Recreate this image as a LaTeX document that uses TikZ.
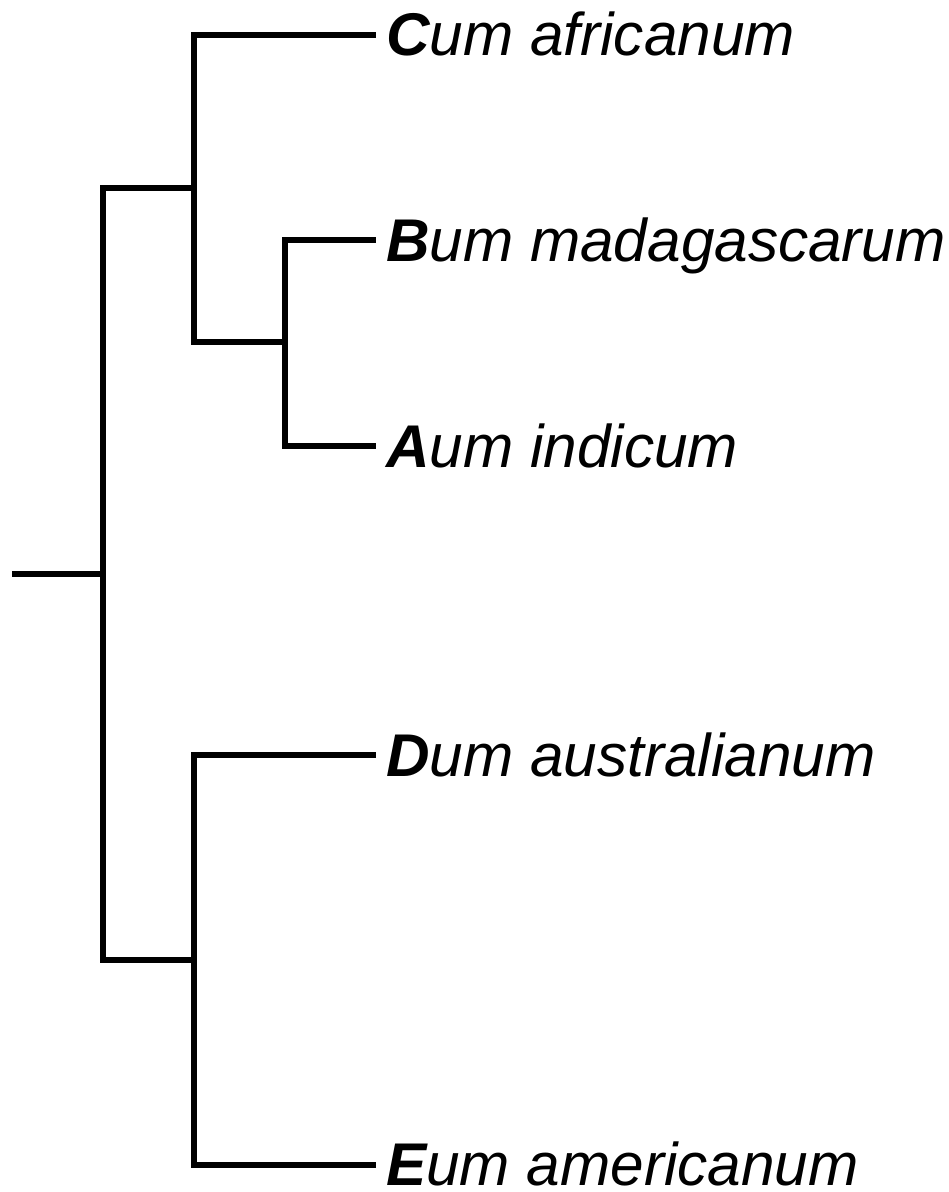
\documentclass[tikz,border=0pt]{standalone}
\usepackage{fontspec}
\setmainfont{Liberation Sans}
\begin{document}
\begin{tikzpicture}[x=1pt,y=-1pt,
  br/.style={line width=6pt, line join=miter, line cap=butt},
  lab/.style={anchor=base west, inner sep=0pt, font=\fontsize{60.3}{70}\selectfont\itshape}]
\useasboundingbox (0,0) rectangle (949,1192);
% internal nodes
\coordinate (rootend) at (12,574);
\coordinate (r) at (103,574);
\coordinate (u) at (194,188);
\coordinate (ab) at (285,342);
\coordinate (l) at (194,960);
% leaf line ends
\coordinate (cC) at (376,34.5);
\coordinate (cB) at (376,240);
\coordinate (cA) at (376,446);
\coordinate (cD) at (376,755);
\coordinate (cE) at (376,1165);
% labels
\node[lab] (C) at (386,55.5) {\textbf{C}um africanum};
\node[lab] (B) at (386,261) {\textbf{B}um madagascarum};
\node[lab] (A) at (386,467) {\textbf{A}um indicum};
\node[lab] (D) at (386,776) {\textbf{D}um australianum};
\node[lab] (E) at (386,1185.5) {\textbf{E}um americanum};
% branches
\draw[br] (rootend) -- (r);
\draw[br] (r) |- (u);
\draw[br] (r) |- (l);
\draw[br] (u) |- (cC);
\draw[br] (u) |- (ab);
\draw[br] (ab) |- (cB);
\draw[br] (ab) |- (cA);
\draw[br] (l) |- (cD);
\draw[br] (l) |- (cE);
\end{tikzpicture}
\end{document}
